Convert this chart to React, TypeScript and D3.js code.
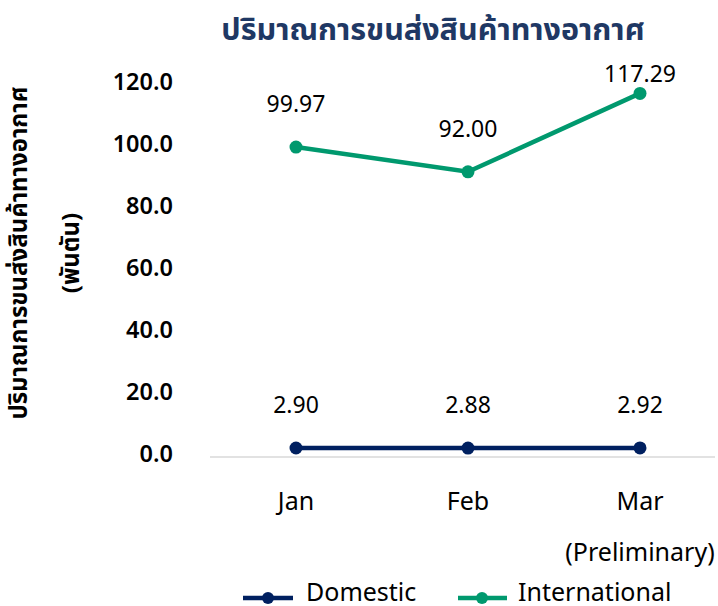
import React from "react";
import * as d3 from "d3";

const categories = ["Jan", "Feb", "Mar"];
const domestic = [2.9, 2.88, 2.92];
const international = [99.97, 92.0, 117.29];
const yTicks = [0, 20, 40, 60, 80, 100, 120];
const title = "ปริมาณการขนส่งสินค้าทางอากาศ";
const yLabel1 = "ปริมาณการขนส่งสินค้าทางอากาศ";
const yLabel2 = "(พันตัน)";
const seriesNames = ["Domestic", "International"];
const subLabel = "(Preliminary)";

const W = 718;
const H = 606;
const FONT = "'Noto Sans Thai', 'Leelawadee UI', Tahoma, 'Noto Sans', sans-serif";
const NAVY = "#002060";
const GREEN = "#00996E";
const TITLE = "#1F3864";

export default function App() {
  const x = d3.scaleBand<string>().domain(categories).range([210, 726]);
  const y = d3.scaleLinear().domain([0, 120]).range([457, 85]);
  const cx = (c: string) => (x(c) as number) + x.bandwidth() / 2;
  const line = d3
    .line<number>()
    .x((_, i) => cx(categories[i]))
    .y((d) => y(d));
  const series = [
    { name: seriesNames[0], data: domestic, color: NAVY },
    { name: seriesNames[1], data: international, color: GREEN },
  ];
  return (
    <svg width={W} height={H} style={{ position: "absolute", left: 0, top: 0, fontFamily: FONT }}>
      <rect width={W} height={H} fill="#fff" />
      <text x={433} y={40} textAnchor="middle" fontSize={30.5} fontWeight="bold" fill={TITLE}>
        {title}
      </text>
      <g transform="translate(20,253) rotate(-90)">
        <text x={0} y={0} textAnchor="middle" dominantBaseline="central" fontSize={24} fontWeight="bold" fill="#000">
          {yLabel1}
        </text>
      </g>
      <g transform="translate(72,253) rotate(-90)">
        <text x={0} y={0} textAnchor="middle" dominantBaseline="central" fontSize={24} fontWeight="bold" fill="#000">
          {yLabel2}
        </text>
      </g>
      {yTicks.map((t) => (
        <text key={t} x={173} y={y(t) - 2} textAnchor="end" dominantBaseline="central" fontSize={23.5} fontWeight={600} fill="#000">
          {t.toFixed(1)}
        </text>
      ))}
      <line x1={210} x2={715} y1={y(0)} y2={y(0)} stroke="#d9d9d9" strokeWidth={1.5} />
      {categories.map((c) => (
        <text key={c} x={cx(c)} y={502} textAnchor="middle" dominantBaseline="central" fontSize={25} fill="#000">
          {c}
        </text>
      ))}
      <text x={cx(categories[2])} y={553} textAnchor="middle" dominantBaseline="central" fontSize={25} fill="#000">
        {subLabel}
      </text>
      {series.map((s) => (
        <g key={s.name}>
          <path d={line(s.data) || ""} fill="none" stroke={s.color} strokeWidth={4.5} />
          {s.data.map((v, i) => (
            <circle key={i} cx={cx(categories[i])} cy={y(v)} r={6.5} fill={s.color} />
          ))}
          {s.data.map((v, i) => (
            <text key={"l" + i} x={cx(categories[i])} y={Math.max(y(v) - 42, 75)} textAnchor="middle" dominantBaseline="central" fontSize={23} fill="#000">
              {v.toFixed(2)}
            </text>
          ))}
        </g>
      ))}
      <g>
        <line x1={243} x2={293} y1={598} y2={598} stroke={NAVY} strokeWidth={4.5} />
        <circle cx={268} cy={598} r={6} fill={NAVY} />
        <text x={306} y={601} fontSize={25} fill="#000">{seriesNames[0]}</text>
        <line x1={458} x2={507} y1={598} y2={598} stroke={GREEN} strokeWidth={4.5} />
        <circle cx={482} cy={598} r={6} fill={GREEN} />
        <text x={518} y={601} fontSize={25} fill="#000">{seriesNames[1]}</text>
      </g>
    </svg>
  );
}
